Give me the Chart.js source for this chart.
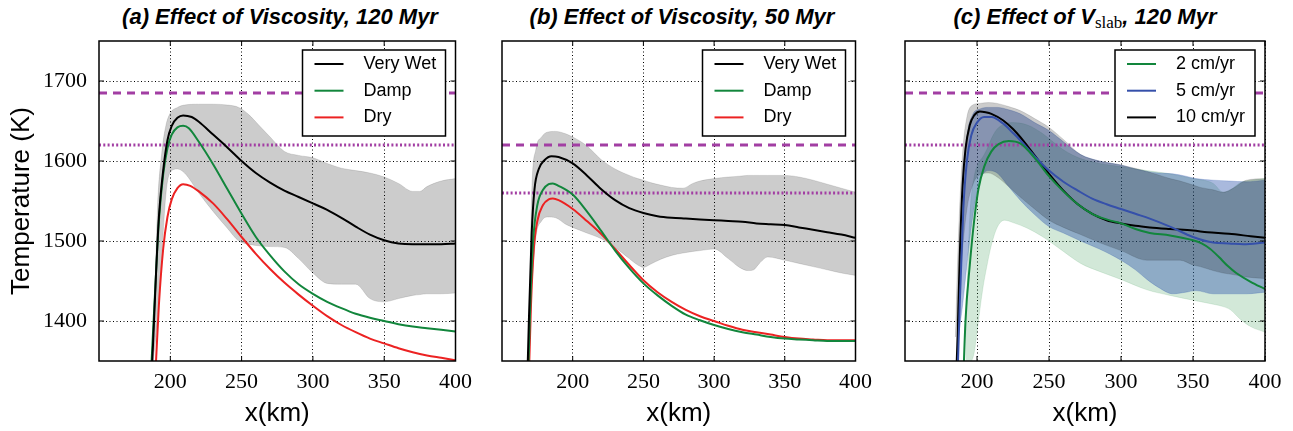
<!DOCTYPE html>
<html>
<head>
<meta charset="utf-8">
<script src="https://cdn.jsdelivr.net/npm/chart.js@4.4.0/dist/chart.umd.min.js"></script>
<style>
body { margin: 0; background: #fff; width: 1293px; height: 431px; position: relative; overflow: hidden; }
canvas { position: absolute; top: 0; }
.ttl { position: absolute; top: 4px; line-height: 26px; font: italic bold 22px "Liberation Sans", Arial, sans-serif; white-space: nowrap; transform: translateX(-50%); }
.ttl .sub { font: normal 17px "Liberation Serif", serif; font-style: normal; font-weight: normal; position: relative; top: 4px; }
</style>
</head>
<body>
<div class="ttl" style="left:280px">(a) Effect of Viscosity, 120 Myr</div>
<div class="ttl" style="left:682px">(b) Effect of Viscosity, 50 Myr</div>
<div class="ttl" style="left:1085px">(c) Effect of V<span class="sub">slab</span>, 120 Myr</div>
<canvas id="pa" width="480" height="431" style="left:0px"></canvas>
<canvas id="pb" width="400" height="431" style="left:480px"></canvas>
<canvas id="pc" width="413" height="431" style="left:880px"></canvas>
<script>
// axis ticks
const xTicks = [200, 250, 300, 350, 400];
const yTicks = [1400, 1500, 1600, 1700];
const xRange = [150, 400];
const yRange = [1350, 1750];
const refX = [150, 400];

// (a) 120 Myr viscosity
const wetAx = [186, 188, 190, 192, 195, 198, 201, 205, 209, 215, 220, 230, 240, 250, 260, 270, 280, 290, 300, 310, 320, 330, 340, 350, 360, 370, 380, 390, 400];
const wetAy = [1300, 1375, 1460, 1530, 1588, 1626, 1644, 1654, 1657, 1655, 1649, 1633, 1617, 1600, 1585, 1573, 1563, 1555, 1547, 1539, 1529, 1518, 1508, 1501, 1497, 1496, 1496, 1496, 1497];
const dampAx = [185.5, 188, 190, 192, 195, 198, 201, 205, 209, 213, 220, 230, 240, 250, 260, 270, 280, 290, 300, 310, 320, 330, 340, 350, 360, 370, 380, 390, 400];
const dampAy = [1300, 1390, 1460, 1525, 1583, 1616, 1633, 1642, 1644, 1641, 1624, 1596, 1565, 1534, 1505, 1482, 1462, 1446, 1434, 1424, 1416, 1409, 1404, 1400, 1396, 1393, 1391, 1389, 1387];
const dryAx = [188.5, 190, 192, 195, 198, 201, 205, 209, 214, 220, 230, 240, 250, 260, 270, 280, 290, 300, 310, 320, 330, 340, 350, 360, 370, 380, 390, 400];
const dryAy = [1300, 1350, 1420, 1490, 1530, 1552, 1566, 1571, 1569, 1562, 1547, 1527, 1505, 1484, 1465, 1448, 1433, 1419, 1406, 1395, 1386, 1378, 1372, 1366, 1361, 1357, 1354, 1351];
const bandAx = [188, 191, 194, 197, 200, 205, 210, 220, 230, 240, 248, 255, 262, 270, 280, 290, 300, 310, 320, 330, 340, 350, 360, 370, 375, 380, 390, 400];
const bandAhi = [1350, 1540, 1610, 1645, 1660, 1667, 1670, 1671, 1671, 1670, 1667, 1658, 1645, 1630, 1612, 1607, 1604, 1597, 1591, 1588, 1585, 1580, 1572, 1562, 1562, 1568, 1575, 1578];
const bandAlo = [1350, 1400, 1480, 1560, 1586, 1590, 1585, 1560, 1537, 1516, 1500, 1496, 1494, 1493, 1492, 1478, 1460, 1447, 1446, 1446, 1428, 1424, 1428, 1432, 1433, 1434, 1434, 1435];
const solidusA = 1685, dotA = 1620;

// (b) 50 Myr viscosity
const wetBx = [167.5, 169, 171, 173, 176, 180, 185, 190, 200, 210, 220, 230, 240, 250, 260, 270, 280, 290, 300, 310, 320, 330, 340, 350, 360, 370, 380, 390, 400];
const wetBy = [1300, 1400, 1510, 1565, 1590, 1601, 1606, 1605, 1597, 1582, 1565, 1551, 1541, 1535, 1531, 1529, 1528, 1527, 1526, 1525, 1524, 1522, 1521, 1520, 1517, 1514, 1511, 1508, 1504];
const dampBx = [168, 170, 172, 175, 179, 183, 186, 190, 200, 210, 220, 230, 240, 250, 260, 270, 280, 290, 300, 310, 320, 330, 340, 350, 360, 370, 380, 390, 400];
const dampBy = [1300, 1420, 1500, 1545, 1564, 1571, 1572, 1569, 1558, 1537, 1513, 1488, 1466, 1447, 1432, 1419, 1408, 1401, 1395, 1390, 1386, 1383, 1380, 1378, 1377, 1376, 1375, 1375, 1375];
const dryBx = [168.5, 170.5, 172.5, 175, 179, 183, 186, 190, 200, 210, 220, 230, 240, 250, 260, 270, 280, 290, 300, 310, 320, 330, 340, 350, 360, 370, 380, 390, 400];
const dryBy = [1300, 1420, 1490, 1525, 1545, 1552, 1553, 1551, 1540, 1525, 1509, 1490, 1470, 1451, 1436, 1424, 1414, 1406, 1400, 1394, 1389, 1386, 1383, 1380, 1378, 1377, 1376, 1376, 1376];
const bandBx = [169, 171, 174, 178, 182, 188, 195, 200, 210, 220, 230, 240, 246, 250, 255, 262, 270, 278, 285, 290, 300, 310, 318, 324, 328, 332, 338, 350, 360, 370, 380, 390, 400];
const bandBhi = [1380, 1560, 1615, 1630, 1636, 1637, 1634, 1630, 1619, 1602, 1590, 1582, 1578, 1576, 1573, 1570, 1567, 1566, 1572, 1575, 1578, 1580, 1581, 1582, 1582, 1582, 1582, 1582, 1580, 1576, 1571, 1566, 1561];
const bandBlo = [1380, 1440, 1505, 1525, 1530, 1529, 1521, 1517, 1510, 1503, 1492, 1478, 1470, 1467, 1471, 1477, 1482, 1485, 1487, 1488, 1490, 1478, 1467, 1463, 1464, 1472, 1480, 1476, 1472, 1468, 1464, 1460, 1457];
const solidusB = 1620, dotB = 1560;

// (c) slab velocity, 120 Myr
const v10x = [185, 186.5, 188, 190, 192, 195, 198, 202, 206, 210, 218, 225, 230, 240, 250, 260, 270, 280, 290, 300, 310, 320, 334, 350, 360, 375, 390, 400];
const v10y = [1300, 1380, 1480, 1570, 1615, 1645, 1657, 1662, 1661, 1659, 1651, 1640, 1630, 1607, 1584, 1563, 1546, 1534, 1526, 1522, 1519, 1517, 1515, 1513, 1511, 1509, 1506, 1504];
const v5x = [186, 188, 190.5, 193, 196, 200, 205, 210, 218, 225, 230, 240, 250, 260, 270, 280, 290, 300, 310, 320, 334, 350, 364, 375, 385, 400];
const v5y = [1300, 1420, 1540, 1600, 1632, 1648, 1655, 1655, 1647, 1635, 1626, 1606, 1588, 1574, 1563, 1553, 1546, 1540, 1534, 1528, 1518, 1505, 1498, 1497, 1496, 1498];
const v2x = [190, 192, 195, 198, 201, 205, 210, 215, 222, 230, 240, 250, 260, 270, 280, 290, 300, 310, 320, 334, 350, 356, 362, 368, 374, 380, 390, 400];
const v2y = [1300, 1400, 1470, 1525, 1565, 1593, 1612, 1621, 1625, 1622, 1604, 1581, 1562, 1546, 1534, 1527, 1522, 1515, 1510, 1507, 1501, 1497, 1490, 1480, 1469, 1460, 1449, 1440];
const band2x = [192, 195, 198, 201, 204, 207, 210, 214, 219, 225, 235, 245, 250, 260, 272, 285, 300, 318, 334, 350, 364, 371, 376, 383, 390, 400];
const band2hi = [1380, 1530, 1580, 1597, 1605, 1615, 1628, 1640, 1646, 1648, 1645, 1635, 1628, 1614, 1603, 1597, 1593, 1588, 1584, 1578, 1572, 1561, 1564, 1573, 1576, 1578];
const band2lo = [1330, 1345, 1360, 1400, 1440, 1470, 1495, 1517, 1526, 1523, 1516, 1506, 1500, 1487, 1472, 1462, 1452, 1439, 1432, 1426, 1421, 1418, 1414, 1402, 1393, 1386];
const band5x = [187, 190, 193, 197, 202, 208, 214, 222, 230, 240, 250, 260, 272, 285, 300, 310, 318, 326, 336, 345, 352, 364, 375, 387, 400];
const band5hi = [1380, 1560, 1630, 1658, 1665, 1667, 1667, 1664, 1659, 1648, 1638, 1624, 1608, 1600, 1595, 1590, 1587, 1585, 1584, 1581, 1578, 1576, 1575, 1574, 1576];
const band5lo = [1380, 1420, 1470, 1530, 1575, 1588, 1585, 1568, 1551, 1533, 1518, 1510, 1500, 1490, 1476, 1464, 1452, 1442, 1434, 1436, 1438, 1434, 1434, 1434, 1436];
const band10x = [185, 187, 190, 193, 197, 202, 208, 214, 222, 230, 240, 250, 260, 272, 285, 300, 318, 334, 341, 350, 355, 364, 371, 378, 387, 400];
const band10hi = [1380, 1500, 1610, 1655, 1670, 1672, 1673, 1672, 1668, 1663, 1653, 1642, 1627, 1608, 1600, 1595, 1587, 1578, 1575, 1570, 1567, 1564, 1561, 1566, 1576, 1578];
const band10lo = [1380, 1420, 1490, 1540, 1570, 1583, 1585, 1580, 1568, 1555, 1540, 1526, 1517, 1508, 1498, 1488, 1476, 1476, 1476, 1470, 1468, 1463, 1460, 1458, 1455, 1453];
const solidusC = 1685, dotC = 1620;

const BLACK = '#000000', GREEN = '#12863c', RED = '#ec2222', BLUE = '#3550aa', PURPLE = '#a23ea3';

function pts(xs, ys) {
  return xs.map((x, i) => ({ x: x, y: ys[i] }));
}
function curve(label, xs, ys, color) {
  return { label: label, data: pts(xs, ys), borderColor: color, borderWidth: 2, pointRadius: 0,
    cubicInterpolationMode: 'monotone', fill: false, order: 1, inLegend: true };
}
function band(xs, hi, lo, color) {
  return [
    { data: pts(xs, hi), borderColor: color, backgroundColor: color, borderWidth: 0.6, pointRadius: 0,
      cubicInterpolationMode: 'monotone', fill: '+1', order: 3 },
    { data: pts(xs, lo), borderColor: color, borderWidth: 0.6, pointRadius: 0,
      cubicInterpolationMode: 'monotone', fill: false, order: 3 }
  ];
}
function refLine(val, dash) {
  return { data: pts(refX, [val, val]), borderColor: PURPLE, borderWidth: 3, borderDash: dash,
    pointRadius: 0, fill: false, order: 2 };
}

// frame, inward ticks and boxed legend
const decor = {
  id: 'decor',
  afterDraw(chart, args, opts) {
    const { ctx, chartArea: a } = chart;
    const xs = chart.scales.x, ys = chart.scales.y;
    ctx.save();
    ctx.strokeStyle = '#000';
    ctx.lineWidth = 1;
    ctx.beginPath();
    xTicks.forEach(v => {
      const p = xs.getPixelForValue(v);
      ctx.moveTo(p, a.bottom); ctx.lineTo(p, a.bottom - 5);
      ctx.moveTo(p, a.top); ctx.lineTo(p, a.top + 5);
    });
    yTicks.forEach(v => {
      const p = ys.getPixelForValue(v);
      ctx.moveTo(a.left, p); ctx.lineTo(a.left + 5, p);
      ctx.moveTo(a.right, p); ctx.lineTo(a.right - 5, p);
    });
    ctx.stroke();
    ctx.lineWidth = 1.5;
    ctx.strokeRect(a.left, a.top, a.right - a.left, a.bottom - a.top);

    const items = chart.data.datasets.filter(d => d.inLegend);
    const w = opts.width, h = 86;
    const x0 = a.right - 10 - w, y0 = a.top + 9;
    ctx.fillStyle = '#fff';
    ctx.fillRect(x0, y0, w, h);
    ctx.lineWidth = 1.5;
    ctx.strokeRect(x0, y0, w, h);
    ctx.font = '18px "Liberation Sans", Arial, sans-serif';
    ctx.textBaseline = 'middle';
    items.forEach((d, i) => {
      const y = y0 + 14 + i * 26.7;
      ctx.strokeStyle = d.borderColor;
      ctx.lineWidth = 2;
      ctx.beginPath(); ctx.moveTo(x0 + 12, y); ctx.lineTo(x0 + 41, y); ctx.stroke();
      ctx.fillStyle = '#000';
      ctx.fillText(d.label, x0 + 61, y);
    });
    ctx.restore();
  }
};

function makePanel(id, datasets, leftW, rightPad, showY, legendW) {
  new Chart(document.getElementById(id), {
    type: 'line',
    data: { datasets: datasets },
    plugins: [decor],
    options: {
      responsive: false,
      animation: false,
      layout: { padding: { top: 41, left: 0, right: rightPad, bottom: 0 } },
      plugins: { legend: { display: false }, tooltip: { enabled: false }, decor: { width: legendW } },
      scales: {
        x: {
          type: 'linear', min: xRange[0], max: xRange[1], z: 1,
          afterBuildTicks: s => { s.ticks = xTicks.map(v => ({ value: v })); },
          afterFit: s => { s.height = 70; },
          grid: { color: '#000', lineWidth: 1, drawTicks: false },
          border: { display: false, dash: [1, 2.5] },
          ticks: { color: '#000', padding: 8, maxRotation: 0, callback: v => String(v),
            font: { family: '"Liberation Serif", serif', size: 22 } },
          title: { display: true, text: 'x(km)', color: '#000', padding: { top: 0, bottom: 2 },
            font: { family: '"Liberation Sans", Arial, sans-serif', size: 26 } }
        },
        y: {
          type: 'linear', min: yRange[0], max: yRange[1], z: 1,
          afterBuildTicks: s => { s.ticks = yTicks.map(v => ({ value: v })); },
          afterFit: s => { s.width = leftW; },
          grid: { color: '#000', lineWidth: 1, drawTicks: false },
          border: { display: false, dash: [1, 2.5] },
          ticks: { display: showY, color: '#000', padding: 12, callback: v => String(v),
            font: { family: '"Liberation Serif", serif', size: 22 } },
          title: { display: showY, text: 'Temperature (K)', color: '#000', padding: { top: 6, bottom: 0 },
            font: { family: '"Liberation Sans", Arial, sans-serif', size: 26 } }
        }
      }
    }
  });
}

const GRAY = 'rgba(0,0,0,0.2)';

makePanel('pa', [
  curve('Very Wet', wetAx, wetAy, BLACK),
  curve('Damp', dampAx, dampAy, GREEN),
  curve('Dry', dryAx, dryAy, RED),
  refLine(solidusA, [8, 6]),
  refLine(dotA, [2, 2.3]),
  ...band(bandAx, bandAhi, bandAlo, GRAY)
], 99, 21, true, 143);

makePanel('pb', [
  curve('Very Wet', wetBx, wetBy, BLACK),
  curve('Damp', dampBx, dampBy, GREEN),
  curve('Dry', dryBx, dryBy, RED),
  refLine(solidusB, [8, 6]),
  refLine(dotB, [2, 2.3]),
  ...band(bandBx, bandBhi, bandBlo, GRAY)
], 22, 18, false, 143);

makePanel('pc', [
  curve('2 cm/yr', v2x, v2y, GREEN),
  curve('5 cm/yr', v5x, v5y, BLUE),
  curve('10 cm/yr', v10x, v10y, BLACK),
  refLine(solidusC, [8, 6]),
  refLine(dotC, [2, 2.3]),
  ...band(band10x, band10hi, band10lo, GRAY),
  ...band(band5x, band5hi, band5lo, 'rgba(40,80,170,0.4)'),
  ...band(band2x, band2hi, band2lo, 'rgba(30,140,60,0.2)')
], 25, 28, false, 140);
</script>
</body>
</html>
